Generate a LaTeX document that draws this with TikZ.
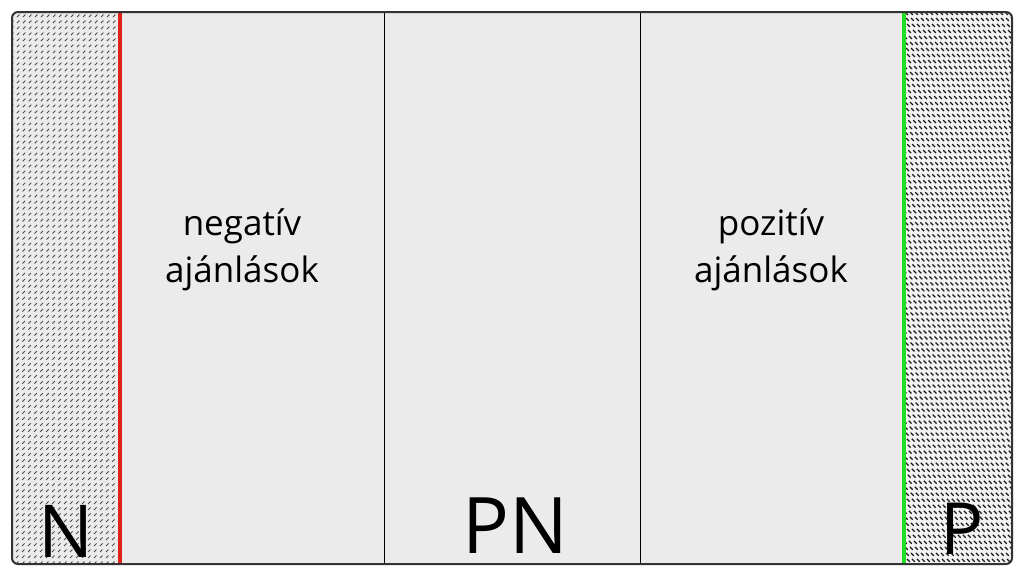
\documentclass[tikz,border=0pt]{standalone}
\usepackage{fontspec}
\setmainfont{Open Sans}
\usetikzlibrary{positioning}

\definecolor{panelgray}{HTML}{EBEBEB}
\definecolor{edgegray}{HTML}{F2F2F2}
\definecolor{framegray}{HTML}{333333}
\definecolor{negred}{HTML}{E0201B}
\definecolor{posgreen}{HTML}{22DD22}

\tikzset{
  side text/.style={font=\fontsize{35}{47}\selectfont, align=center, inner sep=0pt},
  pole letter/.style={font=\fontsize{73}{73}\selectfont, anchor=base, inner sep=0pt},
  hatch light/.style={line width=1pt, draw=black!70, dash pattern=on 3.5pt off 5pt},
  hatch dark/.style={line width=1.2pt, draw=black!90, dash pattern=on 4pt off 4.5pt},
}

\begin{document}
\begin{tikzpicture}[x=1pt,y=-1pt]
\useasboundingbox (0,0) rectangle (1024,576);
\fill[white] (0,0) rectangle (1024,576);
\fill[panelgray, rounded corners=6pt] (12,12) rectangle (1012,564);

% hatched edges
\begin{scope}
  \clip[rounded corners=6pt] (12,12) rectangle (1012,564);
  \clip (12,12) rectangle (120,564);
  \foreach \i in {-560,-554,...,130}
    \draw[hatch light] (\i,564) -- (\i+552,12);
\end{scope}
\begin{scope}
  \clip[rounded corners=6pt] (12,12) rectangle (1012,564);
  \clip (904,12) rectangle (1012,564);
  \fill[edgegray] (904,12) rectangle (1012,564);
  \foreach \i in {340,345,...,1020}
    \draw[hatch dark] (\i,12) -- (\i+552,564);
\end{scope}

% dividers
\draw[line width=0.8pt] (384,12) -- (384,564);
\draw[line width=0.8pt] (640,12) -- (640,564);
\draw[negred, line width=3.2pt] (120,12) -- (120,564);
\draw[posgreen, line width=3.2pt] (904,12) -- (904,564);

\draw[framegray, line width=2pt, rounded corners=6pt] (12,12) rectangle (1012,564);

% labels
\node[side text] (neg) at (242,250) {negatív\\ajánlások};
\node[side text] (pos) at (771,250) {pozitív\\ajánlások};
\node[pole letter] (nlet) at (66,557) {N};
\node[pole letter, font=\fontsize{78}{78}\selectfont] (pnlet) at (515,553) {PN};
\node[pole letter, font=\fontsize{72}{72}\selectfont] (plet) at (962,554) {P};
\end{tikzpicture}
\end{document}
